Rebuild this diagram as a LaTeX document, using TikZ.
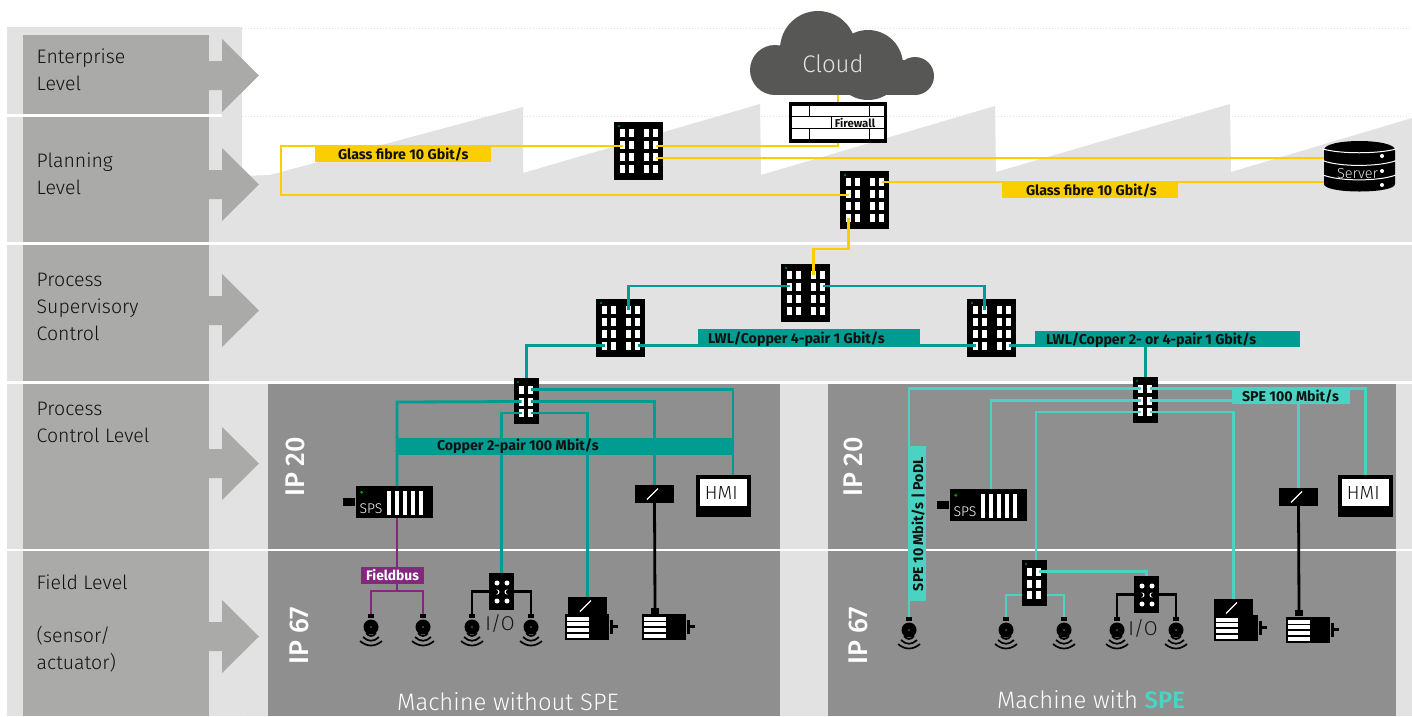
\documentclass[tikz,border=0pt]{standalone}
\usepackage{fontspec}
\setmainfont{Fira Sans}
\newfontfamily\lightf[UprightFont={* Light}]{Fira Sans}
\newfontfamily\medf[UprightFont={* Medium}]{Fira Sans}
\usetikzlibrary{calc}
\definecolor{bgl}{HTML}{E2E2E2}
\definecolor{lvl}{HTML}{AAAAA9}
\definecolor{mach}{HTML}{8F8F8F}
\definecolor{cloudc}{HTML}{575756}
\definecolor{yel}{HTML}{FBCE00}
\definecolor{teal1}{HTML}{009B91}
\definecolor{spe}{HTML}{4AD2C2}
\definecolor{purp}{HTML}{86277F}
\definecolor{ledg}{HTML}{008D36}
\definecolor{ink}{HTML}{111110}
\tikzset{
  blk/.style={fill=black,draw=none,inner sep=0pt,outer sep=0pt},
  lvltext/.style={font=\lightf\fontsize{19.5}{26.9}\selectfont,text=ink,align=left,anchor=west,inner sep=0pt},
  wyel/.style={draw=yel,line width=2.8pt},
  wteal/.style={draw=teal1,line width=2.8pt},
  wspe/.style={draw=spe,line width=2.8pt},
  wpur/.style={draw=purp,line width=2.8pt},
  wblk/.style={draw=black,line width=2.8pt},
  ipt/.style={font=\medf\fontsize{27}{27}\selectfont,text=white,rotate=90,inner sep=0pt},
  mcap/.style={font=\lightf\fontsize{23.8}{26}\selectfont,text=white,inner sep=0pt},
  devt/.style={font=\lightf\fontsize{14}{14}\selectfont,inner sep=0pt},
}
% label bar: name, x0, x1, y0, y1, fill, text offset, text
\newcommand\lab[8]{\node[fill=#6,inner sep=0pt,outer sep=0pt,anchor=center,minimum height=#5pt-#4pt,
  text height=12pt,text depth=1pt,text=ink,font=\bfseries\fontsize{14.2}{15}\selectfont]
  (#1) at ({(#2+#3)/2},{(#4+#5)/2}) {\makebox[\dimexpr#3pt-#2pt\relax][l]{\hspace*{#7pt}#8}};}
\newcommand\bigsw[3]{\begin{scope}[shift={(#2,#3)}]
  \node[blk,minimum width=49pt,minimum height=58pt] (#1) at (24.5,29) {};
  \fill[ledg] (5,4) circle (1.1);
  \foreach \c/\cx in {1/8.5,2/17.5,3/32.5,4/41.5}{\foreach \r/\ry/\py in {1/11/11,2/23/24,3/35/36,4/47/46.5}{
    \fill[white] (\cx-2.5,\ry-4) rectangle ++(5,8);
    \coordinate (#1-\c-\r) at (\cx,\py);}}
  \end{scope}}
\newcommand\smsw[3]{\begin{scope}[shift={(#2,#3)}]
  \node[blk,minimum width=25pt,minimum height=46pt] (#1) at (12.5,23) {};
  \fill[ledg] (4,4) circle (1);
  \foreach \c/\cx in {1/7.5,2/16.5}{\foreach \r/\ry in {1/11.5,2/23.5,3/35}{
    \fill[white] (\cx-2.5,\ry-4) rectangle ++(5,8);
    \coordinate (#1-\c-\r) at (\cx,\ry);}}
  \end{scope}}
\newcommand\sensor[3]{\begin{scope}[shift={(#2,#3)}]
  \node[blk,minimum width=6pt,minimum height=4pt] (#1-stub) at (0,2) {};
  \coordinate (#1-top) at (0,0);
  \node[blk,circle,minimum size=15pt] (#1) at (0,13) {};
  \fill[white] (0,13) circle (0.7);
  \draw[line width=1.7pt,black] (-5,19) .. controls (-2,23) and (2,23) .. (5,19);
  \draw[line width=1.7pt,black] (-8,23) .. controls (-3,28) and (3,28) .. (8,23);
  \draw[line width=1.7pt,black] (-11,27) .. controls (-4,33) and (4,33) .. (11,27);
  \end{scope}}
\newcommand\iobox[3]{\begin{scope}[shift={(#2,#3)}]
  \node[blk,minimum width=25pt,minimum height=37pt] (#1) at (12.5,18.5) {};
  \foreach \px/\py in {8/10,18/10,8/28,18/28}{\fill[white] (\px,\py) circle (2.5);}
  \fill[white] (8,19) circle (2.5); \fill[black] (6.8,19) circle (2.3);
  \fill[white] (18,19) circle (2.5); \fill[black] (19.2,19) circle (2.3);
  \end{scope}}
\newcommand\conv[3]{\begin{scope}[shift={(#2,#3)}]
  \node[blk,minimum width=39pt,minimum height=18pt] (#1) at (19.5,9) {};
  \draw[white,line width=1.2pt] (12,14.5) -- (23,3.5);
  \end{scope}}
\newcommand\motor[3]{\begin{scope}[shift={(#2,#3)}]
  \node[blk,minimum width=44pt,minimum height=26pt] (#1) at (22,13) {};
  \foreach \sy/\sh in {2.5/4,8/3.5,14/3.5,20/3.5}{\fill[white] (2.3,\sy) rectangle ++(22,\sh);}
  \fill[black] (45,5.5) rectangle (48,19.5);
  \fill[black] (48,10.5) rectangle (53,14);
  \end{scope}}
\newcommand\hmi[3]{\begin{scope}[shift={(#2,#3)}]
  \node[blk,minimum width=55pt,minimum height=42pt] (#1) at (27.5,21) {};
  \node[fill=white,inner sep=0pt,minimum width=47pt,minimum height=26.7pt,font=\lightf\fontsize{19}{19}\selectfont,text=ink] (#1-t) at (27.3,17.7) {\kern-4pt HMI};
  \end{scope}}
\newcommand\spsbox[3]{\begin{scope}[shift={(#2,#3)}]
  \node[blk,minimum width=77pt,minimum height=32pt] (#1) at (38.5,16) {};
  \node[blk,minimum width=12pt,minimum height=8pt] (#1-st) at (-7,16) {};
  \fill[green!60!black] (5.7,6.3) circle (1.6);
  \foreach \bx in {31,39,47,55,63}{\fill[white] (\bx,5) rectangle ++(4,24);}
  \node[devt,text=white] (#1-t) at (15,23) {SPS};
  \coordinate (#1-in) at (41,0);
  \coordinate (#1-out) at (41,32);
  \end{scope}}
\begin{document}
\begin{tikzpicture}[x=1pt,y=-1pt,line join=miter]
\useasboundingbox (0,0) rectangle (1412,716);
\fill[white] (0,0) rectangle (1412,716);
% sawtooth ground
\fill[bgl] (242,176) -- (270,175) -- (523,107) -- (523,173) -- (760,104) -- (761,175) -- (995,106) -- (996,172) -- (1230,104) -- (1231,172) -- (1412,118) -- (1412,716) -- (242,716) -- cycle;
\fill[bgl] (7,27) rectangle (242,716);
\draw[bgl,line width=1pt,dotted] (242,28) -- (1412,28);
\draw[bgl,line width=1pt,dotted] (242,116) -- (1412,116);
% level boxes
\fill[lvl] (23,35) rectangle (209,114);
\fill[lvl] (23,117) rectangle (209,242);
\fill[lvl] (23,245) rectangle (209,381);
\fill[lvl] (23,384) rectangle (209,549);
\fill[lvl] (23,551) rectangle (209,716);
% level arrows
\foreach \cy in {75.5,184.5,310.5,463.5,636.5}{
  \fill[lvl] (209,\cy-14.5) -- (222,\cy-14.5) -- (222,\cy-36.5) -- (259,\cy) -- (222,\cy+36.5) -- (222,\cy+14.5) -- (209,\cy+14.5) -- cycle;}
% machine panels
\fill[mach] (268,384) rectangle (780,716);
\fill[mach] (828,384) rectangle (1396,716);
% separators
\draw[white,line width=2.5pt] (7,115.5) -- (222,115.5);
\draw[white,line width=2.5pt] (7,243.3) -- (1412,243.3);
\draw[white,line width=2.5pt] (7,382.3) -- (1412,382.3);
\draw[white,line width=2.5pt] (7,550) -- (1412,550);
% level texts
\node[lvltext] (t1) at (36.5,70) {Enterprise\\Level};
\node[lvltext] (t2) at (36.5,173.5) {Planning\\Level};
\node[lvltext] (t3) at (36.5,307) {Process\\Supervisory\\Control};
\node[lvltext] (t4) at (36.5,422) {Process\\Control Level};
\node[lvltext] (t5) at (36.5,623.5) {Field Level\\[26.9pt](sensor/\\actuator)};
% IP texts
\node[ipt] (ip1) at (295,467) {IP 20};
\node[ipt] (ip2) at (299,636) {IP 67};
\node[ipt] (ip3) at (853,467) {IP 20};
\node[ipt] (ip4) at (858,636) {IP 67};
\node[mcap] (m1) at (508,702) {Machine without SPE};
\node[mcap] (m2) at (1091,700) {Machine with \textcolor{spe}{\bfseries SPE}};
% cloud
\fill[cloudc] (818,49) circle (38) (775,70) circle (25) (868,65) circle (35) (915,76) circle (19);
\fill[cloudc] (775,60) rectangle (915,95);
\node[inner sep=0pt,text=bgl,font=\lightf\fontsize{24}{24}\selectfont] (cloud) at (833,64) {Cloud};
\coordinate (cloudout) at (838,95);
% firewall
\node[blk,minimum width=98pt,minimum height=41pt] (fw) at (838,122.5) {};
\fill[white] (792,106) rectangle (884,139);
\draw[black,line width=1pt] (792,116.7) -- (884,116.7) (792,128) -- (884,128)
  (809,106) -- (809,116.7) (869,106) -- (869,116.7) (831,116.7) -- (831,128) (809,128) -- (809,139) (869,128) -- (869,139);
\node[inner sep=0pt,text=ink,font=\bfseries\fontsize{11.4}{11.4}\selectfont] (fwt) at (855,122.5) {Firewall};
% server
\node[inner sep=0pt,minimum width=71pt,minimum height=50pt] (srv) at (1359.5,166) {};
\fill[black] (1324,150) .. controls (1324,138) and (1395,138) .. (1395,150) -- (1395,184) .. controls (1395,194) and (1324,194) .. (1324,184) -- cycle;
\draw[white,line width=1pt] (1323,149) .. controls (1340,154) and (1378,154) .. (1396,149);
\draw[white,line width=1pt] (1323,160.7) .. controls (1340,167) and (1378,167) .. (1396,160.7);
\draw[white,line width=1pt] (1323,175) .. controls (1340,181.5) and (1378,181.5) .. (1396,175);
\fill[white] (1382,156) circle (2) (1382,171) circle (2) (1382,185) circle (2);
\node[inner sep=0pt,text=bgl,font=\lightf\fontsize{14.5}{14.5}\selectfont] (srvt) at (1357.5,174) {Server};
% switches
\bigsw{A}{614}{122}
\bigsw{B}{840}{171}
\bigsw{C}{781}{264}
\bigsw{D}{596}{299}
\bigsw{E}{967}{299}
\smsw{sa}{514}{378}
\smsw{sb}{1133}{377}
\smsw{sc}{1022}{560}
% left machine devices
\spsbox{spsl}{356}{486}
\conv{cvl}{635}{485}
\hmi{hmil}{696}{475}
\iobox{iol}{489}{573}
\sensor{se1}{371}{614}
\sensor{se2}{423}{614}
\sensor{se3}{472}{614}
\sensor{se4}{531}{614}
\motor{mo1}{565}{614}
\conv{cvm1}{568}{597}
\motor{mo2}{642}{614}
\node[blk,minimum width=8pt,minimum height=6pt] (st1) at (655,611) {};
% right machine devices
\spsbox{spsr}{950}{489}
\conv{cvr}{1279}{488}
\hmi{hmir}{1338}{475}
\iobox{ior}{1134}{576}
\sensor{sf0}{909}{617}
\sensor{sf1}{1006}{617}
\sensor{sf2}{1064}{617}
\sensor{sf3}{1117}{617}
\sensor{sf4}{1176}{617}
\motor{mo3}{1214}{615}
\conv{cvm2}{1214}{599}
\motor{mo4}{1286}{617}
\node[blk,minimum width=8pt,minimum height=6pt] (st2) at (1299,613) {};
% yellow connectors
\coordinate (bendY) at (281,170);
\coordinate (bendB) at (830,249);
\draw[wyel] (cloudout) -- (fw.north);
\draw[wyel] (fw.south) |- (A-4-2);
\draw[wyel] (A-4-3) -- (A-4-3 -| srv.west);
\draw[wyel] (A-1-2) -| (bendY) |- (B-1-2);
\draw[wyel] (B-4-1) -- (B-4-1 -| srv.west);
\draw[wyel] (B-1-4) |- (bendB) -| (C-3-1);
% teal connectors
\draw[wteal] ([yshift=2pt]C-1-2) -| (D-3-1);
\draw[wteal] ([yshift=2pt]C-4-2) -| (E-2-1);
\draw[wteal] (D-1-4) -| (sa.north);
\draw[wteal] (D-4-4) -- (E-1-4);
\draw[wteal] (E-4-4) -| (sb.north);
\draw[wteal] (sa-2-1) -| ([xshift=9.5pt]hmil.north);
\draw[wteal] (sa-2-2) -| (cvl.north);
\draw[wteal] (sa-2-3) -| (cvm1.north);
\coordinate (bendS) at (397,402);
\draw[wteal] (sa-1-2) -- (bendS) -- (spsl-in);
\draw[wteal] (sa-1-3) -| (iol.north);
% SPE connectors
\draw[wspe] (sb-1-1) -| (sf0-top);
\draw[wspe] (sb-1-2) -| (spsr-in);
\draw[wspe] (sb-1-3) -| ([xshift=1.5pt]sc.north);
\draw[wspe] (sb-2-1) -| (hmir.north);
\draw[wspe] (sb-2-2) -| (cvr.north);
\draw[wspe] (sb-2-3) -| (cvm2.north);
\draw[wspe] (sc-2-1) -| (ior.north);
\draw[wspe] (sc-1-3 -| sc.west) -| (sf1-top);
\draw[wspe] (sc-2-3 -| sc.east) -| (sf2-top);
% black connectors
\draw[wblk] (cvl.south) -- (st1.north);
\draw[wblk] (cvr.south) -- (st2.north);
\draw[wblk] (iol.west) -| (se3-top);
\draw[wblk] (iol.east) -| (se4-top);
\draw[wblk] (ior.west) -| (sf3-top);
\draw[wblk] (ior.east) -| (sf4-top);
% purple connectors
\coordinate (fork) at (397,591);
\draw[wpur] (spsl-out) -- (fork);
\draw[wpur] (se1-top) |- (fork) -| (se2-top);
% I/O texts
\node[inner sep=0pt,text=ink,font=\lightf\fontsize{20}{20}\selectfont] (iot1) at (500,623) {I/O};
\node[inner sep=0pt,text=ink,font=\lightf\fontsize{20}{20}\selectfont] (iot2) at (1143,628) {I/O};
% label bars
\lab{lg1}{315}{491}{146}{162}{yel}{23}{Glass fibre 10 Gbit/s}
\lab{lg2}{1002}{1178}{182}{198}{yel}{24}{Glass fibre 10 Gbit/s}
\lab{ll1}{698}{920}{329}{346.5}{teal1}{10}{LWL/Copper 4-pair 1 Gbit/s}
\lab{ll2}{1035}{1300}{331}{347}{teal1}{11}{LWL/Copper 2- or 4-pair 1 Gbit/s}
\lab{lc}{397}{734}{438}{455}{teal1}{40}{\raisebox{1.5pt}{Copper 2-pair 100 Mbit/s}}
\lab{ls}{1232}{1350}{388}{404}{spe}{10}{SPE 100 Mbit/s}
\node[fill=purp,inner sep=0pt,minimum height=17pt,minimum width=63pt,text=white,font=\bfseries\fontsize{13.8}{14}\selectfont] (lf) at (392.5,575.5) {Fieldbus};
\node[fill=spe,inner sep=0pt,rotate=90,minimum height=17pt,text height=12pt,text depth=1pt,text=ink,font=\bfseries\fontsize{14.2}{15}\selectfont] (lv) at (917.5,523.5) {\makebox[155pt][l]{\hspace*{10pt}SPE 10 Mbit/s | PoDL}};
\end{tikzpicture}
\end{document}
